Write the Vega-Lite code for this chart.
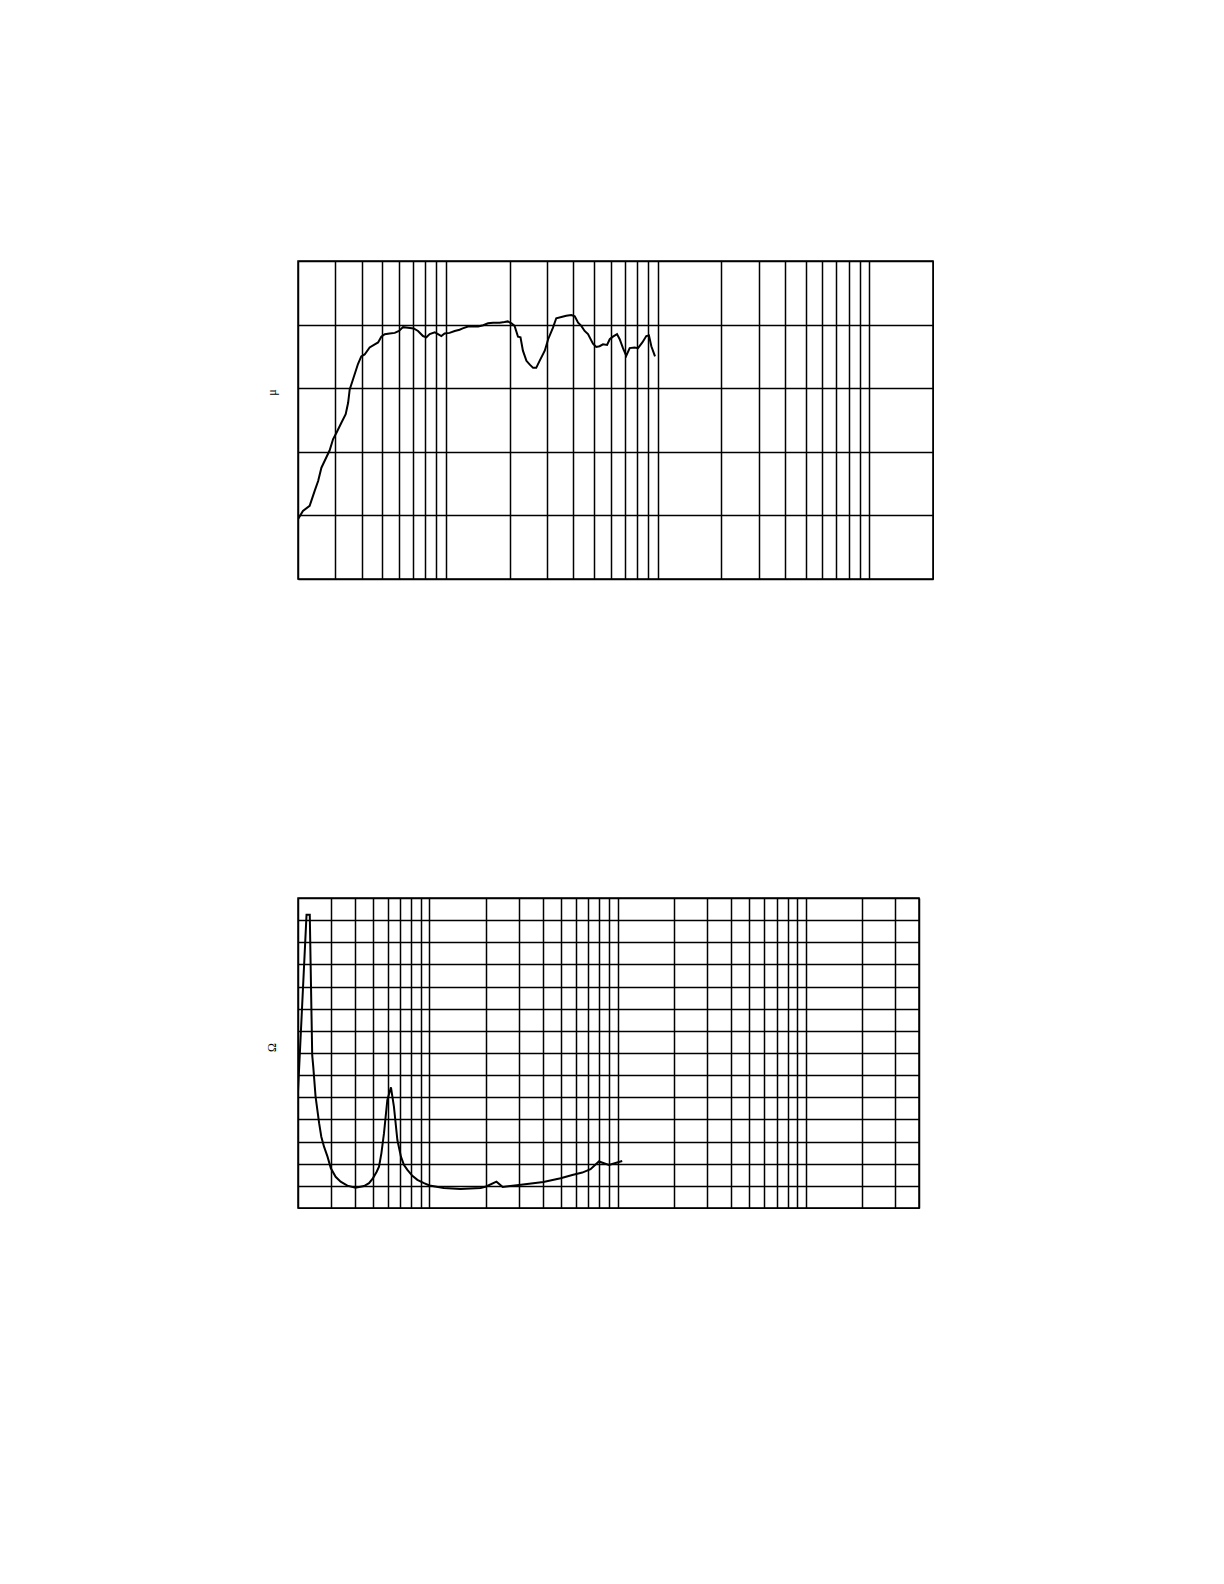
{
  "$schema": "https://vega.github.io/schema/vega-lite/v6.json",
  "background": "white",
  "padding": {"left": 264, "top": 260, "right": 0, "bottom": 0},
  "spacing": 317,
  "config": {
    "view": {"stroke": "black", "strokeWidth": 1.5},
    "axis": {
      "grid": true, "gridColor": "black", "gridOpacity": 1, "gridWidth": 1.5,
      "labels": false, "ticks": false, "domain": false,
      "titleFont": "Liberation Serif", "titleFontWeight": "normal", "titleFontSize": 12, "titleColor": "black"
    }
  },
  "vconcat": [
    {
      "width": 635,
      "height": 318,
      "data": {"values": [
        {"f": 20, "db": 59.4}, {"f": 21.1, "db": 60.7}, {"f": 22.7, "db": 61.5}, {"f": 24.0, "db": 63.9},
        {"f": 24.9, "db": 65.4}, {"f": 25.8, "db": 67.5}, {"f": 27.2, "db": 69.1}, {"f": 28.2, "db": 70.2},
        {"f": 29.3, "db": 72.0}, {"f": 30.4, "db": 73.0}, {"f": 32.1, "db": 74.6}, {"f": 33.6, "db": 75.9},
        {"f": 34.5, "db": 77.7}, {"f": 35.1, "db": 79.8}, {"f": 36.4, "db": 81.4}, {"f": 38.4, "db": 83.8},
        {"f": 39.8, "db": 85.0}, {"f": 41.3, "db": 85.3}, {"f": 43.6, "db": 86.4}, {"f": 46.1, "db": 86.9},
        {"f": 47.8, "db": 87.2}, {"f": 49.5, "db": 88.1}, {"f": 51.4, "db": 88.5}, {"f": 54.2, "db": 88.6},
        {"f": 57.3, "db": 88.7}, {"f": 60.0, "db": 89.0}, {"f": 62.7, "db": 89.6}, {"f": 66.2, "db": 89.5},
        {"f": 70.4, "db": 89.4}, {"f": 73.8, "db": 89.0}, {"f": 77.9, "db": 88.2}, {"f": 80.8, "db": 88.0},
        {"f": 83.8, "db": 88.5}, {"f": 88.5, "db": 88.8}, {"f": 91.7, "db": 88.5}, {"f": 95.1, "db": 88.2},
        {"f": 98.6, "db": 88.6}, {"f": 104, "db": 88.7}, {"f": 110, "db": 89.0}, {"f": 116, "db": 89.2},
        {"f": 120, "db": 89.4}, {"f": 127, "db": 89.7}, {"f": 134, "db": 89.7}, {"f": 142, "db": 89.7},
        {"f": 150, "db": 89.9}, {"f": 158, "db": 90.2}, {"f": 167, "db": 90.3}, {"f": 179, "db": 90.3},
        {"f": 189, "db": 90.4}, {"f": 196, "db": 90.5}, {"f": 204, "db": 90.2}, {"f": 211, "db": 89.8},
        {"f": 219, "db": 88.1}, {"f": 225, "db": 88.0}, {"f": 231, "db": 85.9}, {"f": 240, "db": 84.3},
        {"f": 249, "db": 83.7}, {"f": 258, "db": 83.2}, {"f": 267, "db": 83.2}, {"f": 277, "db": 84.3},
        {"f": 293, "db": 85.9}, {"f": 304, "db": 87.7}, {"f": 320, "db": 89.5}, {"f": 332, "db": 91.0},
        {"f": 351, "db": 91.2}, {"f": 370, "db": 91.4}, {"f": 391, "db": 91.5}, {"f": 406, "db": 91.3},
        {"f": 421, "db": 90.3}, {"f": 436, "db": 89.8}, {"f": 452, "db": 89.0}, {"f": 469, "db": 88.5},
        {"f": 495, "db": 87.0}, {"f": 513, "db": 86.5}, {"f": 532, "db": 86.6}, {"f": 552, "db": 86.9},
        {"f": 577, "db": 86.8}, {"f": 594, "db": 87.7}, {"f": 615, "db": 88.1}, {"f": 643, "db": 88.5},
        {"f": 662, "db": 87.7}, {"f": 686, "db": 86.3}, {"f": 711, "db": 85.1}, {"f": 738, "db": 86.3},
        {"f": 779, "db": 86.4}, {"f": 808, "db": 86.3}, {"f": 847, "db": 87.2}, {"f": 884, "db": 88.2},
        {"f": 910, "db": 88.3}, {"f": 934, "db": 86.6}, {"f": 972, "db": 85.0}
      ]},
      "mark": {"type": "line", "color": "black", "strokeWidth": 2, "clip": true},
      "encoding": {
        "x": {"field": "f", "type": "quantitative",
              "scale": {"type": "log", "domain": [20, 20000], "nice": false},
              "axis": {"title": null, "values": [20,30,40,50,60,70,80,90,100,200,300,400,500,600,700,800,900,1000,2000,3000,4000,5000,6000,7000,8000,9000,10000,20000]}},
        "y": {"field": "db", "type": "quantitative",
              "scale": {"domain": [50, 100], "nice": false, "zero": false},
              "axis": {"title": "μ", "values": [50,60,70,80,90,100], "titlePadding": 19.5, "titleY": 131}}
      }
    },
    {
      "width": 621,
      "height": 310,
      "data": {"values": [
        {"f": 20, "z": 5.26}, {"f": 22.2, "z": 13.24}, {"f": 23.1, "z": 13.24}, {"f": 23.8, "z": 6.9},
        {"f": 24.1, "z": 6.4}, {"f": 24.8, "z": 5.03}, {"f": 25.9, "z": 3.83}, {"f": 26.6, "z": 3.22},
        {"f": 27.5, "z": 2.77}, {"f": 28.7, "z": 2.32}, {"f": 29.9, "z": 1.79}, {"f": 31.7, "z": 1.41},
        {"f": 33.7, "z": 1.19}, {"f": 36.6, "z": 1.01}, {"f": 40.4, "z": 0.92}, {"f": 44.9, "z": 0.99},
        {"f": 47.7, "z": 1.12}, {"f": 50, "z": 1.34}, {"f": 52.4, "z": 1.64}, {"f": 53.9, "z": 1.87},
        {"f": 55.5, "z": 2.47}, {"f": 57.3, "z": 3.38}, {"f": 59.7, "z": 4.88}, {"f": 62.4, "z": 5.45},
        {"f": 64.7, "z": 4.58}, {"f": 67.5, "z": 3.07}, {"f": 70.5, "z": 2.32}, {"f": 73.2, "z": 1.94},
        {"f": 76.3, "z": 1.72}, {"f": 81.1, "z": 1.45}, {"f": 86.2, "z": 1.27}, {"f": 93.5, "z": 1.12},
        {"f": 100, "z": 1.02}, {"f": 119, "z": 0.9}, {"f": 146, "z": 0.86}, {"f": 187, "z": 0.9},
        {"f": 200, "z": 0.97}, {"f": 227, "z": 1.19}, {"f": 245, "z": 0.95}, {"f": 299, "z": 1.04},
        {"f": 403, "z": 1.17}, {"f": 498, "z": 1.34}, {"f": 574, "z": 1.49}, {"f": 649, "z": 1.6},
        {"f": 718, "z": 1.75}, {"f": 795, "z": 2.1}, {"f": 899, "z": 1.94}, {"f": 1058, "z": 2.12}
      ]},
      "mark": {"type": "line", "color": "black", "strokeWidth": 2, "clip": true},
      "encoding": {
        "x": {"field": "f", "type": "quantitative",
              "scale": {"type": "log", "domain": [20, 40000], "nice": false},
              "axis": {"title": null, "values": [20,30,40,50,60,70,80,90,100,200,300,400,500,600,700,800,900,1000,2000,3000,4000,5000,6000,7000,8000,9000,10000,20000,30000,40000]}},
        "y": {"field": "z", "type": "quantitative",
              "scale": {"domain": [0, 14], "nice": false},
              "axis": {"title": "Ω", "values": [0,1,2,3,4,5,6,7,8,9,10,11,12,13,14], "titlePadding": 19.5, "titleY": 149}}
      }
    }
  ]
}
